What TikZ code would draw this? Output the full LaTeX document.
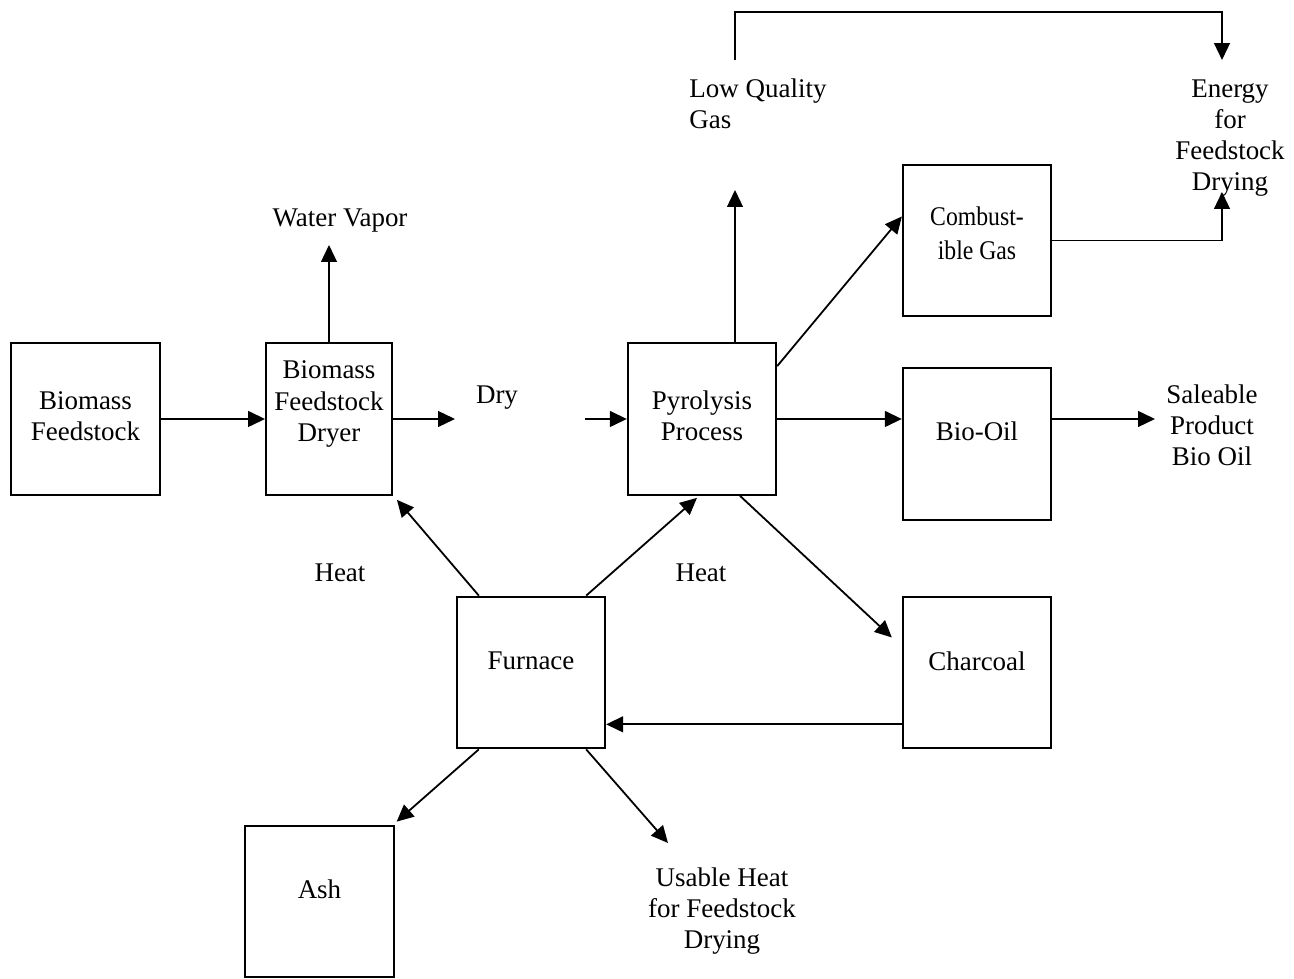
\documentclass[tikz,border=0pt]{standalone}
\usepackage{fontspec}
\setmainfont{Liberation Serif}
\newfontfamily\narrowserif[FakeStretch=0.88]{Liberation Serif}
\usetikzlibrary{arrows.meta, calc}

\begin{document}
\begin{tikzpicture}[
        x=0.445pt, y=-0.445pt,
        font=\fontsize{12}{13.8}\selectfont,
        box/.style={draw, line width=0.9pt, minimum width=66pt, minimum height=67.5pt, inner sep=0pt},
        txt/.style={align=center, inner sep=0pt},
        arr/.style={-{Triangle[length=7.5pt,width=7pt]}, line width=0.8pt}
    ]
    \useasboundingbox (0,0) rectangle (1294,979);

    % Boxes
    \node[box] (feed) at (85.5,419) {};
    \node[box, minimum width=56pt] (dryer) at (329,419) {};
    \node[box] (pyro) at (702,419) {};
    \node[box] (comb) at (977,240.5) {};
    \node[box] (oil) at (977,444) {};
    \node[box] (char) at (977,672.5) {};
    \node[box] (furn) at (531,672.5) {};
    \node[box] (ash) at (319.5,901.5) {};

    % Box texts
    \node[txt] (feedT) at (85.5,416) {Biomass\\Feedstock};
    \node[txt] (dryerT) at (329,404) {Biomass\\Feedstock\\Dryer};
    \node[txt] (pyroT) at (702,416) {Pyrolysis\\Process};
    \node[txt, font=\narrowserif\fontsize{12}{15.3}\selectfont] (combT) at (977,233) {Combust-\\ible Gas};
    \node[txt] (oilT) at (977,431) {Bio-Oil};
    \node[txt] (charT) at (977,661) {Charcoal};
    \node[txt] (furnT) at (531,661) {Furnace};
    \node[txt] (ashT) at (319.5,889) {Ash};

    % Free texts
    \node[txt] (vapour) at (340,221) {Water Vapor};
    \node[txt] (dry) at (497,398) {Dry};
    \node[txt, align=left, anchor=west] (lowgas) at (689,104) {Low Quality\\Gas};
    \node[txt] (energy) at (1230,138) {Energy\\for\\Feedstock\\Drying};
    \node[txt] (sale) at (1212,425) {Saleable\\Product\\Bio Oil};
    \node[txt] (heatA) at (340,573) {Heat};
    \node[txt] (heatB) at (701,573) {Heat};
    \node[txt] (usable) at (722,911) {Usable Heat\\for Feedstock\\Drying};

    % Free ends
    \coordinate (dryOut) at (455,419);
    \coordinate (pyroIn) at (585,419);
    \coordinate (vapIn) at (329,245);
    \coordinate (gasIn) at (735,190);
    \coordinate (lqTop) at (735,60);
    \coordinate (enTop) at (1222,60);
    \coordinate (enBot) at (1222,192);
    \coordinate (saleIn) at (1155,419);
    \coordinate (heatOut) at (668,843);

    % Arrows
    \draw[arr] (feed) -- (dryer);
    \draw[arr] (dryer.east) -- (dryOut);
    \draw[arr] (pyroIn) -- (pyro.west);
    \draw[arr] (dryer.north) -- (vapIn);
    \draw[arr] (gasIn |- pyro.north) -- (gasIn);
    \draw[arr] (lqTop) -- ++(0,-48) -| (enTop);
    \draw[arr] ($(pyro.north east)+(0,24)$) -- ($(comb.west)+(0,-24)$);
    \draw[arr] (comb.east) -| (enBot);
    \draw[arr] (pyro.east) -- (pyro.east -| oil.west);
    \draw[arr] (oil.east |- pyro.east) -- (saleIn);
    \draw[arr] ($(pyro.south)+(38,0)$) -- ($(char.west)+(-10,-35)$);
    \draw[arr] ($(char.south west)+(0,-25)$) -- ($(furn.south east)+(0,-25)$);
    \draw[arr] ($(furn.north west)+(23,0)$) -- ($(dryer.south east)+(4,4)$);
    \draw[arr] ($(furn.north east)+(-20,0)$) -- ($(pyro.south)+(-5,2)$);
    \draw[arr] ($(furn.south west)+(23,0)$) -- ($(ash.north east)+(2,-3)$);
    \draw[arr] ($(furn.south east)+(-20,0)$) -- (heatOut);

\end{tikzpicture}
\end{document}
